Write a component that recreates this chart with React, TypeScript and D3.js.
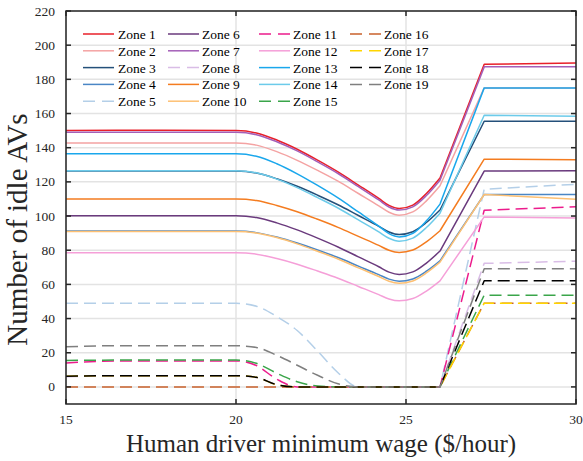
import React from "react";
import * as d3 from "d3";

const wages = [15, 16.5, 20, 20.6, 21.2, 21.8, 22.4, 23.0, 23.6, 24.2, 24.5, 24.8, 25.2, 25.6, 26.0, 27.3, 30];

const zoneNames = Array.from({ length: 19 }, (_, i) => `Zone ${i + 1}`);

const zone1 = [150, 150.2, 150, 148.6, 144.5, 139.1, 132.7, 125.8, 118.1, 110.3, 106.2, 104.4, 106.4, 113.2, 122.3, 188.8, 189.5];
const zone2 = [142.8, 142.8, 142.8, 141.5, 137.7, 132.6, 126.7, 120.4, 113.2, 106.0, 102.2, 100.5, 102.4, 108.9, 117.7, 175, 175];
const zone3 = [126.3, 126.3, 126.3, 125.2, 121.8, 117.4, 112.2, 106.6, 100.3, 94.0, 90.7, 89.2, 90.8, 96.2, 103.5, 155.5, 155.5];
const zone4 = [91.2, 91.2, 91.2, 90.3, 87.7, 84.2, 80.1, 75.7, 70.7, 65.7, 63.1, 61.9, 63.2, 67.7, 73.8, 112.6, 112.6];
const zone5 = [48.9, 48.9, 48.9, 47.2, 41.2, 33.0, 21.0, 8.3, 0, 0, 0, 0, 0, 0, 0, 115.7, 118.6];
const zone6 = [100.1, 100.1, 100.1, 99.1, 96.0, 91.9, 87.1, 81.9, 76.1, 70.3, 67.2, 65.8, 67.3, 72.5, 79.5, 126.3, 126.5];
const zone7 = [149, 149, 149, 147.6, 143.5, 138.1, 131.7, 124.9, 117.2, 109.4, 105.3, 103.5, 105.4, 112.0, 121.0, 187.3, 187.3];
const zone8 = [6.0, 6.4, 6.4, 5.5, 1.5, 0, 0, 0, 0, 0, 0, 0, 0, 0, 0, 72.3, 73.6];
const zone9 = [110, 110, 110, 109.1, 106.2, 102.5, 98.1, 93.4, 88.1, 82.8, 80.0, 78.7, 80.1, 84.9, 91.4, 133.3, 133.0];
const zone10 = [91, 91, 91, 90.1, 87.4, 83.7, 79.4, 74.9, 69.7, 64.6, 61.8, 60.6, 62.0, 66.7, 73.0, 112.6, 109.9];
const zone11 = [14, 15.2, 15.2, 12.5, 4.5, 0, 0, 0, 0, 0, 0, 0, 0, 0, 0, 103.4, 105.4];
const zone12 = [78.5, 78.5, 78.5, 77.7, 75.1, 71.8, 67.8, 63.6, 58.8, 54.0, 51.5, 50.4, 51.7, 56.1, 62.1, 99.5, 98.8];
const zone13 = [136.4, 136.4, 136.4, 135.0, 130.6, 124.7, 117.9, 110.6, 102.4, 94.1, 89.7, 87.8, 89.9, 97.2, 107.0, 175, 175];
const zone14 = [126.5, 126.5, 126.5, 125.3, 121.6, 116.6, 110.8, 104.7, 97.7, 90.7, 87.0, 85.3, 87.1, 93.3, 101.7, 159, 158.4];
const zone15 = [15.5, 15.7, 15.7, 13.8, 8.0, 3.0, 0.5, 0, 0, 0, 0, 0, 0, 0, 0, 53.7, 53.7];
const zone16 = [0, 0, 0, 0, 0, 0, 0, 0, 0, 0, 0, 0, 0, 0, 0, 49, 49];
const zone17 = [6.2, 6.6, 6.6, 5.6, 1.2, 0, 0, 0, 0, 0, 0, 0, 0, 0, 0, 49, 49];
const zone18 = [6.2, 6.6, 6.6, 5.6, 1.3, 0, 0, 0, 0, 0, 0, 0, 0, 0, 0, 62.1, 62.1];
const zone19 = [23.5, 24.1, 24.1, 23.1, 18.5, 12.7, 6.8, 1.8, 0, 0, 0, 0, 0, 0, 0, 69.1, 69.1];

const seriesValues = [zone1, zone2, zone3, zone4, zone5, zone6, zone7, zone8, zone9, zone10, zone11, zone12, zone13, zone14, zone15, zone16, zone17, zone18, zone19];

const zoneColors = ["#e8202a", "#f4a3a3", "#24507a", "#4a86c5", "#b4cfe8", "#6a3a7d", "#a45fb8", "#d9bde6", "#f47c20", "#fdc073", "#ec1c8c", "#f59fd8", "#1aa7ec", "#6ccbea", "#3aa54a", "#c9622c", "#ffd500", "#000000", "#7f7f7f"];
const zoneDashed = [false, false, false, false, true, false, false, true, false, false, true, false, false, false, true, true, true, true, true];

const xTicks = [15, 20, 25, 30];
const yTicks = [0, 20, 40, 60, 80, 100, 120, 140, 160, 180, 200, 220];

const xLabel = "Human driver minimum wage ($/hour)";
const yLabel = "Number of idle AVs";

// index where the smooth part ends and the piecewise-linear part starts
const smoothEnd = 14;

export default function App() {
  const W = 583, H = 461;
  const L = 66, R = 576, T = 11, B = 404;
  const x = d3.scaleLinear().domain([15, 30]).range([L, R]);
  const y = d3.scaleLinear().domain([-10, 220]).range([B, T]);
  type P = [number, number];
  const smoothLine = d3.line<P>().x((d) => x(d[0])).y((d) => y(d[1])).curve(d3.curveMonotoneX);
  const linLine = d3.line<P>().x((d) => x(d[0])).y((d) => y(d[1]));
  const font = "'Liberation Serif', 'Times New Roman', serif";
  const axisColor = "#262626";
  const gridColor = "#e3e3e3";

  const legendCols = [
    { lx: 83, tx: 118 },
    { lx: 168, tx: 202 },
    { lx: 259, tx: 293 },
    { lx: 350, tx: 384 },
  ];
  const rowY = [34, 50.8, 67.6, 84.4, 101.2];

  const pathFor = (vals: number[]) => {
    const pts: P[] = vals.map((v, i) => [wages[i], v]);
    const a = smoothLine(pts.slice(0, smoothEnd + 1)) || "";
    const b = linLine(pts.slice(smoothEnd)) || "";
    return a + b.replace(/^M[^L]*/, "");
  };

  return (
    <svg width={W} height={H} style={{ position: "absolute", left: 0, top: 0 }}>
      <rect x={0} y={0} width={W} height={H} fill="#ffffff" />
      {xTicks.map((t) => (
        <line key={`gx${t}`} x1={x(t)} x2={x(t)} y1={T} y2={B} stroke={gridColor} strokeWidth={1.5} />
      ))}
      {yTicks.map((t) => (
        <line key={`gy${t}`} x1={L} x2={R} y1={y(t)} y2={y(t)} stroke={gridColor} strokeWidth={1.5} />
      ))}
      {seriesValues.map((vals, i) => (
        <path
          key={`s${i}`}
          d={pathFor(vals)}
          fill="none"
          stroke={zoneColors[i]}
          strokeWidth={1.5}
          strokeDasharray={zoneDashed[i] ? "12,6" : undefined}
          strokeLinejoin="round"
        />
      ))}
      <rect x={L} y={T} width={R - L} height={B - T} fill="none" stroke={axisColor} strokeWidth={1.5} />
      {xTicks.map((t) => (
        <g key={`tx${t}`}>
          <line x1={x(t)} x2={x(t)} y1={B} y2={B - 5} stroke={axisColor} strokeWidth={1.5} />
          <line x1={x(t)} x2={x(t)} y1={T} y2={T + 5} stroke={axisColor} strokeWidth={1.5} />
          <text x={x(t)} y={B + 20} textAnchor="middle" fontFamily={font} fontSize={13.5} fill={axisColor}>
            {t}
          </text>
        </g>
      ))}
      {yTicks.map((t) => (
        <g key={`ty${t}`}>
          <line x1={L} x2={L + 5} y1={y(t)} y2={y(t)} stroke={axisColor} strokeWidth={1.5} />
          <line x1={R} x2={R - 5} y1={y(t)} y2={y(t)} stroke={axisColor} strokeWidth={1.5} />
          <text x={L - 11} y={y(t) + 4.5} textAnchor="end" fontFamily={font} fontSize={13.5} fill={axisColor}>
            {t}
          </text>
        </g>
      ))}
      <text x={(L + R) / 2} y={452} textAnchor="middle" fontFamily={font} fontSize={25} fill={axisColor}>
        {xLabel}
      </text>
      <text
        transform={`translate(27, ${(T + B) / 2 + 22}) rotate(-90)`}
        textAnchor="middle"
        fontFamily={font}
        fontSize={29}
        fill={axisColor}
      >
        {yLabel}
      </text>
      {zoneNames.map((name, i) => {
        const col = Math.floor(i / 5);
        const row = i % 5;
        const c = legendCols[col];
        const ly = rowY[row];
        return (
          <g key={`lg${i}`}>
            <line
              x1={c.lx}
              x2={c.lx + 31}
              y1={ly}
              y2={ly}
              stroke={zoneColors[i]}
              strokeWidth={1.5}
              strokeDasharray={zoneDashed[i] ? "12,7" : undefined}
            />
            <text x={c.tx} y={ly + 5} fontFamily={font} fontSize={13.5} fill="#000">
              {name}
            </text>
          </g>
        );
      })}
    </svg>
  );
}
